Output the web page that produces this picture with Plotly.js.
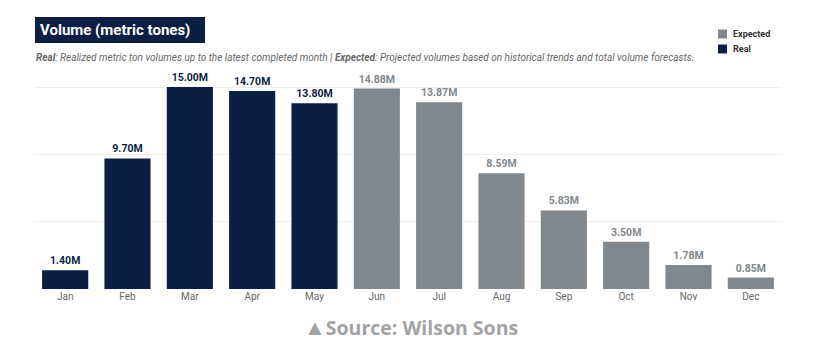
<!DOCTYPE html>
<html><head><meta charset="utf-8">
<script src="https://cdn.plot.ly/plotly-3.0.1.min.js"></script>
<style>html,body{margin:0;padding:0;background:#fff;}#chart{width:835px;height:356px;}</style>
</head><body><div id="chart"></div>
<script>
const months = ["Jan","Feb","Mar","Apr","May","Jun","Jul","Aug","Sep","Oct","Nov","Dec"];
const realMonths = ["Jan","Feb","Mar","Apr","May"];
const realValues = [1.40, 9.70, 15.00, 14.70, 13.80];
const expectedMonths = ["Jun","Jul","Aug","Sep","Oct","Nov","Dec"];
const expectedValues = [14.88, 13.87, 8.59, 5.83, 3.50, 1.78, 0.85];
const gridValues = [0, 5, 10, 15];
const legendNames = ["Expected","Real"];

const NAVY = "#0b1f44";
const GRAY = "#80888d";

const traces = [
  {type:"bar", name:"Real", x:realMonths, y:realValues,
   marker:{color:NAVY}, texttemplate:"%{y:.2f}M", textposition:"outside",
   textfont:{family:"Roboto, Arial", size:10.5, color:NAVY, weight:"bold"},
   cliponaxis:false, showlegend:false, hoverinfo:"x+y"},
  {type:"bar", name:"Expected", x:expectedMonths, y:expectedValues,
   marker:{color:GRAY}, texttemplate:"%{y:.2f}M", textposition:"outside",
   textfont:{family:"Roboto, Arial", size:10.5, color:GRAY, weight:"bold"},
   cliponaxis:false, showlegend:false, hoverinfo:"x+y"}
];

// pixel helpers for paper coordinates (plot area: x 34..782, y 80..289)
const px = v => (v - 34) / 748;
const py = v => (289 - v) / 209;

const legendColors = [GRAY, NAVY];
const legendY = [34, 49];

const shapes = [
  {type:"rect", xref:"paper", yref:"paper", x0:px(35), x1:px(205), y0:py(43), y1:py(17),
   fillcolor:NAVY, line:{width:0}, layer:"below"}
];
const annotations = [
  {text:"<b>Volume (metric tones)</b>", xref:"paper", yref:"paper", x:px(38), y:py(30),
   xanchor:"left", yanchor:"middle", showarrow:false,
   font:{family:"Roboto, Arial", size:15, color:"#fff"}},
  {text:"<b>Real</b>: Realized metric ton volumes up to the latest completed month | <b>Expected</b>: Projected volumes based on historical trends and total volume forecasts.",
   xref:"paper", yref:"paper", x:px(34), y:py(57), xanchor:"left", yanchor:"middle",
   showarrow:false, font:{family:"Roboto, Arial", size:10, color:"#666", style:"italic"}},
  {text:"<span style='font-size:22px'>▲</span>Source: Wilson Sons", xref:"paper", yref:"paper", x:px(411), y:py(326),
   xanchor:"center", yanchor:"middle", showarrow:false,
   font:{family:"Open Sans, Arial", size:19.5, color:"#a3a3a3", weight:"bold"}}
];
legendNames.forEach((n, i) => {
  shapes.push({type:"rect", xref:"paper", yref:"paper", x0:px(718), x1:px(727),
    y0:py(legendY[i] + 4.5), y1:py(legendY[i] - 4.5), fillcolor:legendColors[i], line:{width:0}});
  annotations.push({text:"<b>" + n + "</b>", xref:"paper", yref:"paper", x:px(731), y:py(legendY[i]),
    xanchor:"left", yanchor:"middle", showarrow:false,
    font:{family:"Roboto, Arial", size:9, color:"#333"}});
});

const layout = {
  width:835, height:356,
  margin:{l:34, r:53, t:80, b:67},
  paper_bgcolor:"#fff", plot_bgcolor:"#fff",
  barmode:"overlay", bargap:0.26,
  font:{family:"Roboto, Arial", color:"#555"},
  xaxis:{categoryorder:"array", categoryarray:months, tickfont:{size:10, color:"#666"},
         showgrid:false, zeroline:false, showline:false, ticks:""},
  yaxis:{range:[0,15.52], tickvals:gridValues, showticklabels:false, gridcolor:"#eeeeee",
         zeroline:false, showline:false, fixedrange:true},
  showlegend:false,
  shapes:shapes,
  annotations:annotations
};

Plotly.newPlot("chart", traces, layout, {displayModeBar:false, staticPlot:true});
</script>
</body></html>
